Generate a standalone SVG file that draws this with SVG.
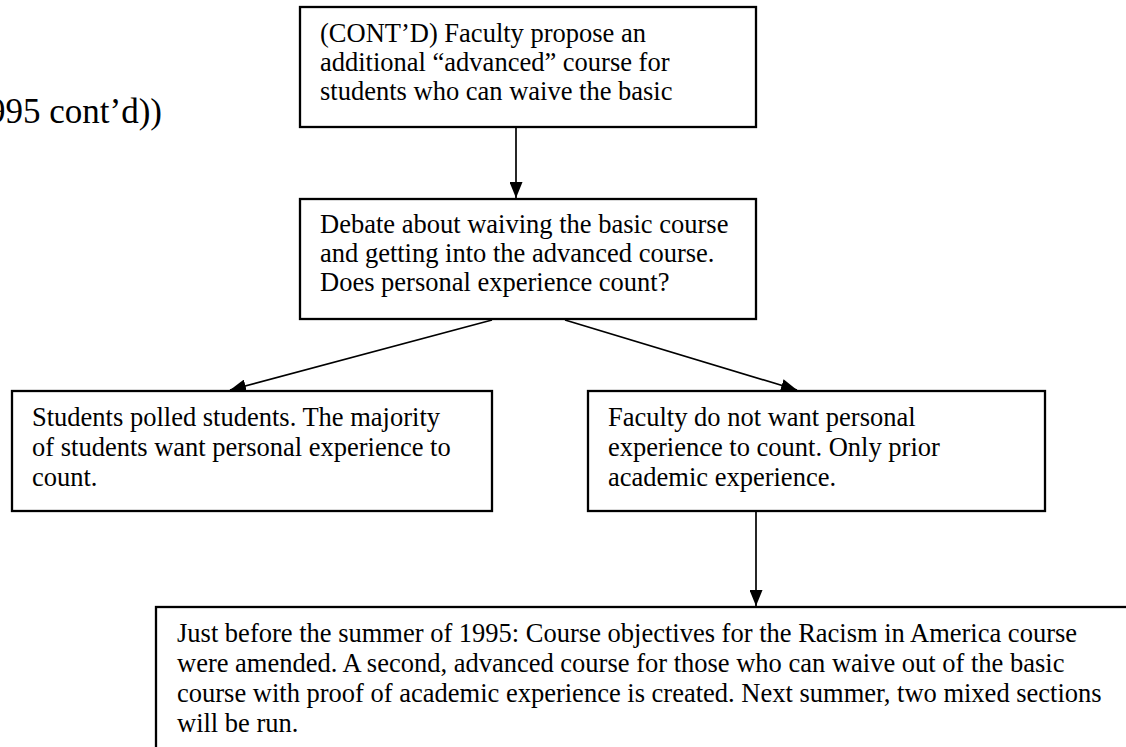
<svg xmlns="http://www.w3.org/2000/svg" width="1126" height="747" viewBox="0 0 1126 747">
<style>
.box{fill:#fff;stroke:#000;stroke-width:2.3}
.t{font-family:"Liberation Serif","Times New Roman",serif;font-size:26.5px;fill:#000}
.big{font-family:"Liberation Serif","Times New Roman",serif;font-size:35px;fill:#000}
.edge{stroke:#000;stroke-width:1.7;fill:none;marker-end:url(#arr)}
</style>
<defs>
<marker id="arr" markerUnits="userSpaceOnUse" markerWidth="16" markerHeight="13" refX="16" refY="6.5" orient="auto">
<path d="M0,0 L16,6.5 L0,13 z" fill="#000"/>
</marker>
</defs>
<rect width="1126" height="747" fill="#fff"/>
<text class="big" x="162" y="123" text-anchor="end">995 cont’d))</text>
<g id="connectors">
<line class="edge" x1="516" y1="128" x2="516" y2="198"/>
<line class="edge" x1="492" y1="320" x2="230" y2="390"/>
<line class="edge" x1="565" y1="320" x2="797" y2="390"/>
<line class="edge" x1="756" y1="512" x2="756" y2="606"/>
</g>
<g id="n1">
<rect class="box" x="300" y="7" width="456" height="120"/>
<text class="t" x="320" y="42">(CONT’D) Faculty propose an</text>
<text class="t" x="320" y="71">additional “advanced” course for</text>
<text class="t" x="320" y="100">students who can waive the basic</text>
</g>
<g id="n2">
<rect class="box" x="300" y="199" width="456" height="120"/>
<text class="t" x="320" y="233">Debate about waiving the basic course</text>
<text class="t" x="320" y="262">and getting into the advanced course.</text>
<text class="t" x="320" y="291">Does personal experience count?</text>
</g>
<g id="n3">
<rect class="box" x="12" y="391" width="480" height="120"/>
<text class="t" x="32" y="426">Students polled students. The majority</text>
<text class="t" x="32" y="456">of students want personal experience to</text>
<text class="t" x="32" y="486">count.</text>
</g>
<g id="n4">
<rect class="box" x="588" y="391" width="457" height="120"/>
<text class="t" x="608" y="426">Faculty do not want personal</text>
<text class="t" x="608" y="456">experience to count. Only prior</text>
<text class="t" x="608" y="486">academic experience.</text>
</g>
<g id="n5">
<rect class="box" x="156" y="607" width="1000" height="200"/>
<text class="t" x="177" y="642">Just before the summer of 1995: Course objectives for the Racism in America course</text>
<text class="t" x="177" y="672">were amended. A second, advanced course for those who can waive out of the basic</text>
<text class="t" x="177" y="702">course with proof of academic experience is created. Next summer, two mixed sections</text>
<text class="t" x="177" y="732">will be run.</text>
</g>
</svg>
